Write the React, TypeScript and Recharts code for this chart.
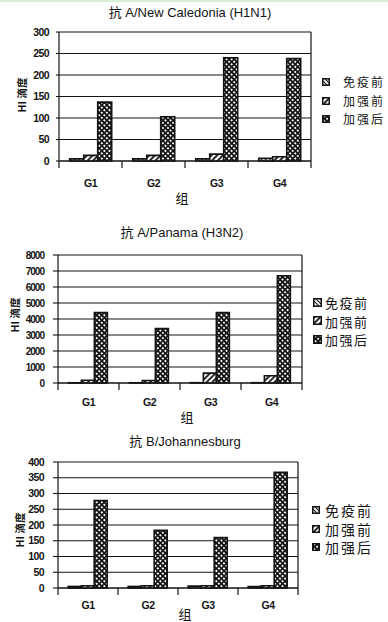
import { BarChart, Bar, XAxis, YAxis, CartesianGrid, ReferenceLine } from 'recharts';

const groups = ['G1', 'G2', 'G3', 'G4'];
const seriesNames = ['免疫前', '加强前', '加强后'];

// anti A/New Caledonia (H1N1)
const h1n1Pre = [5, 5, 5, 6];
const h1n1PreBoost = [13, 13, 16, 10];
const h1n1PostBoost = [137, 103, 240, 238];
const h1n1Ticks = [0, 50, 100, 150, 200, 250, 300];

// anti A/Panama (H3N2)
const h3n2Pre = [15, 15, 20, 20];
const h3n2PreBoost = [170, 160, 620, 450];
const h3n2PostBoost = [4400, 3400, 4400, 6700];
const h3n2Ticks = [0, 1000, 2000, 3000, 4000, 5000, 6000, 7000, 8000];

// anti B/Johannesburg
const bPre = [5, 5, 6, 5];
const bPreBoost = [7, 7, 7, 7];
const bPostBoost = [278, 183, 160, 367];
const bTicks = [0, 50, 100, 150, 200, 250, 300, 350, 400];

const patternIds = ['pat-pre', 'pat-preboost', 'pat-post'];
const ink = '#141414';
const narrow = "'Liberation Sans Narrow', 'Liberation Sans', sans-serif";
const cjk = "'Noto Sans CJK SC', sans-serif";

interface Layout {
  top: number;
  height: number;
  plotLeft: number;
  plotRight: number;
  plotTop: number;
  plotBottom: number;
  yAxisWidth: number;
  yTickSize: number;
  yTickMargin: number;
  yFont: number;
  yFontSpacing: number;
  catMargin: number;
  title: [number, number];
  yLabel: [number, number];
  xLabel: [number, number];
  legendSwatchX: number;
  legendTextX: number;
  legendY: number;
  legendStep: number;
  legendFont: number;
  legendSpacing: number;
  swatch: number;
}

interface PanelProps {
  title: string;
  pre: number[];
  preBoost: number[];
  postBoost: number[];
  ticks: number[];
  layout: Layout;
}

// group label plus the short marks at the group boundaries, like the old excel charts
function GroupTick(props: any) {
  const { x, y, payload, index, gap } = props;
  const half = payload.offset || 0;
  const axisY = y - gap;
  const last = index === groups.length - 1;
  return (
    <g>
      <line x1={x - half} x2={x - half} y1={axisY} y2={axisY + 7} stroke={ink} strokeWidth={1.2} />
      {last && <line x1={x + half} x2={x + half} y1={axisY} y2={axisY + 7} stroke={ink} strokeWidth={1.2} />}
      <text
        x={x}
        y={y}
        dy="0.71em"
        textAnchor="middle"
        fill={ink}
        fontSize={10.5}
        fontWeight={700}
        fontFamily={narrow}
        letterSpacing={-0.4}
      >
        {payload.value}
      </text>
    </g>
  );
}

function Patterns() {
  return (
    <svg width={0} height={0} style={{ position: 'absolute' }}>
      <defs>
        <pattern id="pat-pre" width={3} height={3} patternUnits="userSpaceOnUse" patternTransform="rotate(-45)">
          <rect width={3} height={3} fill="#fff" />
          <line x1={1.5} y1={0} x2={1.5} y2={3} stroke={ink} strokeWidth={1.1} />
        </pattern>
        <pattern id="pat-preboost" width={4} height={4} patternUnits="userSpaceOnUse" patternTransform="rotate(45)">
          <rect width={4} height={4} fill="#fff" />
          <line x1={2} y1={0} x2={2} y2={4} stroke={ink} strokeWidth={1.8} />
        </pattern>
        <pattern id="pat-post" width={3.6} height={3.6} patternUnits="userSpaceOnUse" patternTransform="rotate(45)">
          <rect width={3.6} height={3.6} fill="#fff" />
          <path d="M0 0.85H3.6M0.85 0V3.6" stroke={ink} strokeWidth={1.7} />
        </pattern>
      </defs>
    </svg>
  );
}

function Panel({ title, pre, preBoost, postBoost, ticks, layout: L }: PanelProps) {
  const data = groups.map((g, i) => ({ group: g, pre: pre[i], preBoost: preBoost[i], postBoost: postBoost[i] }));
  const keys = ['pre', 'preBoost', 'postBoost'];
  return (
    <div style={{ position: 'absolute', left: 0, top: L.top, width: 388, height: L.height }}>
      <div
        style={{
          position: 'absolute',
          left: L.title[0],
          top: L.title[1] - L.top,
          transform: 'translate(-50%, -50%)',
          whiteSpace: 'nowrap',
          fontFamily: "'Liberation Sans', 'Noto Sans CJK SC', sans-serif",
          fontSize: 13,
          color: ink,
        }}
      >
        {title}
      </div>
      <div
        style={{
          position: 'absolute',
          left: L.yLabel[0],
          top: L.yLabel[1] - L.top,
          transform: 'translate(-50%, -50%) rotate(-90deg)',
          whiteSpace: 'nowrap',
          fontFamily: cjk,
          fontWeight: 700,
          fontSize: 10.5,
          lineHeight: 1,
          color: ink,
        }}
      >
        HI 滴度
      </div>
      <div
        style={{
          position: 'absolute',
          left: L.xLabel[0],
          top: L.xLabel[1] - L.top,
          transform: 'translate(-50%, -50%)',
          fontFamily: cjk,
          fontSize: 13,
          lineHeight: 1,
          color: ink,
        }}
      >
        组
      </div>
      {seriesNames.map((name, i) => (
        <div key={name}>
          <svg
            width={L.swatch}
            height={L.swatch}
            style={{ position: 'absolute', left: L.legendSwatchX, top: L.legendY + i * L.legendStep - L.top - L.swatch / 2 }}
          >
            <rect x={0.75} y={0.75} width={L.swatch - 1.5} height={L.swatch - 1.5} fill={`url(#${patternIds[i]})`} stroke={ink} strokeWidth={1.5} />
          </svg>
          <div
            style={{
              position: 'absolute',
              left: L.legendTextX,
              top: L.legendY + i * L.legendStep - L.top,
              transform: 'translateY(-50%)',
              fontFamily: cjk,
              fontSize: L.legendFont,
              letterSpacing: L.legendSpacing,
              lineHeight: 1,
              whiteSpace: 'nowrap',
              color: ink,
            }}
          >
            {name}
          </div>
        </div>
      ))}
      <BarChart
        width={388}
        height={L.height}
        data={data}
        margin={{
          top: L.plotTop - L.top,
          left: L.plotLeft - L.yAxisWidth,
          right: 388 - L.plotRight,
          bottom: L.top + L.height - L.plotBottom - 1,
        }}
        barCategoryGap="17%"
        barGap={0}
      >
        <CartesianGrid vertical={false} stroke={ink} strokeWidth={1.1} />
        <XAxis
          dataKey="group"
          height={1}
          axisLine={{ stroke: ink, strokeWidth: 1.2 }}
          tickLine={false}
          tickSize={0}
          tickMargin={L.catMargin}
          interval={0}
          tick={(p: any) => <GroupTick {...p} gap={L.catMargin} />}
        />
        <YAxis
          width={L.yAxisWidth}
          domain={[0, ticks[ticks.length - 1]]}
          ticks={ticks}
          interval={0}
          tickSize={L.yTickSize}
          tickMargin={L.yTickMargin}
          axisLine={{ stroke: ink, strokeWidth: 1.2 }}
          tickLine={{ stroke: ink, strokeWidth: 1.1 }}
          tick={{ fill: ink, fontSize: L.yFont, fontWeight: 700, fontFamily: narrow, letterSpacing: L.yFontSpacing }}
        />
        <ReferenceLine x={groups[groups.length - 1]} position="end" stroke={ink} strokeWidth={1.2} />
        {keys.map((k, i) => (
          <Bar
            key={k}
            dataKey={k}
            name={seriesNames[i]}
            fill={`url(#${patternIds[i]})`}
            stroke={ink}
            strokeWidth={1.6}
            isAnimationActive={false}
          />
        ))}
      </BarChart>
    </div>
  );
}

const layout1: Layout = {
  top: 0, height: 205,
  plotLeft: 59, plotRight: 311, plotTop: 30, plotBottom: 159,
  yAxisWidth: 40, yTickSize: 3, yTickMargin: 7, yFont: 10.5, yFontSpacing: -0.6,
  catMargin: 19,
  title: [190, 9], yLabel: [22, 93], xLabel: [182, 195],
  legendSwatchX: 322, legendTextX: 343, legendY: 80, legendStep: 18.5,
  legendFont: 12, legendSpacing: 2, swatch: 8,
};

const layout2: Layout = {
  top: 205, height: 210,
  plotLeft: 58, plotRight: 302, plotTop: 253, plotBottom: 381,
  yAxisWidth: 35, yTickSize: 5, yTickMargin: 9, yFont: 10, yFontSpacing: -1,
  catMargin: 16,
  title: [182, 229], yLabel: [15, 313], xLabel: [187, 414],
  legendSwatchX: 313, legendTextX: 325, legendY: 300, legendStep: 18.5,
  legendFont: 13, legendSpacing: 1.5, swatch: 9,
};

const layout3: Layout = {
  top: 415, height: 207,
  plotLeft: 58, plotRight: 298, plotTop: 460, plotBottom: 586,
  yAxisWidth: 35, yTickSize: 5, yTickMargin: 9, yFont: 10.5, yFontSpacing: -0.6,
  catMargin: 14,
  title: [185, 438], yLabel: [20, 528], xLabel: [185, 611],
  legendSwatchX: 312, legendTextX: 325, legendY: 508, legendStep: 18.5,
  legendFont: 14, legendSpacing: 2, swatch: 8,
};

export default function App() {
  return (
    <div style={{ position: 'absolute', left: 0, top: 0, width: 388, height: 622, background: '#fff', overflow: 'hidden', borderTop: '2px solid #d6efd6', boxSizing: 'border-box' }}>
      <Patterns />
      <Panel title="抗 A/New Caledonia (H1N1)" pre={h1n1Pre} preBoost={h1n1PreBoost} postBoost={h1n1PostBoost} ticks={h1n1Ticks} layout={layout1} />
      <Panel title="抗 A/Panama (H3N2)" pre={h3n2Pre} preBoost={h3n2PreBoost} postBoost={h3n2PostBoost} ticks={h3n2Ticks} layout={layout2} />
      <Panel title="抗 B/Johannesburg" pre={bPre} preBoost={bPreBoost} postBoost={bPostBoost} ticks={bTicks} layout={layout3} />
    </div>
  );
}
